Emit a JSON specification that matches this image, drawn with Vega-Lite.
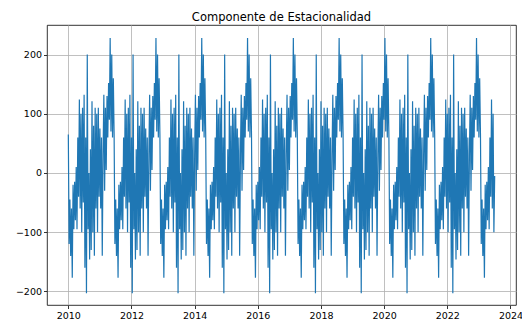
{
  "$schema": "https://vega.github.io/schema/vega-lite/v6.json",
  "width": 469,
  "height": 280,
  "autosize": {"type": "none"},
  "padding": {"left": 47, "top": 25, "right": 6, "bottom": 15},
  "background": "white",
  "title": {
    "text": "Componente de Estacionalidad",
    "font": "DejaVu Sans",
    "fontSize": 11.5,
    "fontWeight": "normal",
    "color": "#000000",
    "anchor": "middle",
    "frame": "group",
    "baseline": "alphabetic",
    "offset": 6,
    "dy": 13
  },
  "config": {
    "view": {"stroke": "#000000", "strokeWidth": 0.8},
    "axis": {
      "labelFont": "DejaVu Sans",
      "labelFontSize": 9.5,
      "labelColor": "#000000",
      "domain": false,
      "tickColor": "#000000",
      "tickSize": 3.5,
      "tickWidth": 0.8,
      "labelPadding": 2,
      "grid": true,
      "gridColor": "#b0b0b0",
      "gridWidth": 0.8,
      "title": null
    }
  },
  "data": {
    "values": [
      {"t":2010,"v":65},{"t":2010.025,"v":-120},{"t":2010.05,"v":-45},{"t":2010.075,"v":-140},{"t":2010.1,"v":-60},{"t":2010.125,"v":-177},{"t":2010.15,"v":-20},{"t":2010.175,"v":-95},{"t":2010.2,"v":-15},{"t":2010.225,"v":-80},{"t":2010.25,"v":10},{"t":2010.275,"v":-95},{"t":2010.3,"v":60},{"t":2010.325,"v":-40},{"t":2010.35,"v":124},{"t":2010.375,"v":-60},{"t":2010.4,"v":100},{"t":2010.425,"v":-100},{"t":2010.45,"v":110},{"t":2010.475,"v":-50},{"t":2010.5,"v":132},{"t":2010.525,"v":-160},{"t":2010.55,"v":60},{"t":2010.575,"v":-203},{"t":2010.6,"v":200},{"t":2010.625,"v":-95},{"t":2010.65,"v":0},{"t":2010.675,"v":-146},{"t":2010.7,"v":40},{"t":2010.725,"v":-130},{"t":2010.75,"v":121},{"t":2010.775,"v":-100},{"t":2010.8,"v":80},{"t":2010.825,"v":-140},{"t":2010.85,"v":110},{"t":2010.875,"v":-60},{"t":2010.9,"v":100},{"t":2010.925,"v":-100},{"t":2010.95,"v":110},{"t":2010.975,"v":-40},
      {"t":2011,"v":75},{"t":2011.025,"v":-60},{"t":2011.05,"v":60},{"t":2011.075,"v":-140},{"t":2011.1,"v":30},{"t":2011.125,"v":132},{"t":2011.15,"v":-30},{"t":2011.175,"v":110},{"t":2011.2,"v":5},{"t":2011.225,"v":130},{"t":2011.25,"v":60},{"t":2011.275,"v":152},{"t":2011.3,"v":90},{"t":2011.325,"v":228},{"t":2011.35,"v":70},{"t":2011.375,"v":200},{"t":2011.4,"v":60},{"t":2011.425,"v":160},{"t":2011.45,"v":65},{"t":2011.475,"v":-120},{"t":2011.5,"v":-45},{"t":2011.525,"v":-140},{"t":2011.55,"v":-60},{"t":2011.575,"v":-177},{"t":2011.6,"v":-20},{"t":2011.625,"v":-95},{"t":2011.65,"v":-15},{"t":2011.675,"v":-80},{"t":2011.7,"v":10},{"t":2011.725,"v":-95},{"t":2011.75,"v":60},{"t":2011.775,"v":-40},{"t":2011.8,"v":124},{"t":2011.825,"v":-60},{"t":2011.85,"v":100},{"t":2011.875,"v":-100},{"t":2011.9,"v":110},{"t":2011.925,"v":-50},{"t":2011.95,"v":132},{"t":2011.975,"v":-160},
      {"t":2012,"v":60},{"t":2012.025,"v":-203},{"t":2012.05,"v":200},{"t":2012.075,"v":-95},{"t":2012.1,"v":0},{"t":2012.125,"v":-146},{"t":2012.15,"v":40},{"t":2012.175,"v":-130},{"t":2012.2,"v":121},{"t":2012.225,"v":-100},{"t":2012.25,"v":80},{"t":2012.275,"v":-140},{"t":2012.3,"v":110},{"t":2012.325,"v":-60},{"t":2012.35,"v":100},{"t":2012.375,"v":-100},{"t":2012.4,"v":110},{"t":2012.425,"v":-40},{"t":2012.45,"v":75},{"t":2012.475,"v":-60},{"t":2012.5,"v":60},{"t":2012.525,"v":-140},{"t":2012.55,"v":30},{"t":2012.575,"v":132},{"t":2012.6,"v":-30},{"t":2012.625,"v":110},{"t":2012.65,"v":5},{"t":2012.675,"v":130},{"t":2012.7,"v":60},{"t":2012.725,"v":152},{"t":2012.75,"v":90},{"t":2012.775,"v":228},{"t":2012.8,"v":70},{"t":2012.825,"v":200},{"t":2012.85,"v":60},{"t":2012.875,"v":160},{"t":2012.9,"v":65},{"t":2012.925,"v":-120},{"t":2012.95,"v":-45},{"t":2012.975,"v":-140},
      {"t":2013,"v":-60},{"t":2013.025,"v":-177},{"t":2013.05,"v":-20},{"t":2013.075,"v":-95},{"t":2013.1,"v":-15},{"t":2013.125,"v":-80},{"t":2013.15,"v":10},{"t":2013.175,"v":-95},{"t":2013.2,"v":60},{"t":2013.225,"v":-40},{"t":2013.25,"v":124},{"t":2013.275,"v":-60},{"t":2013.3,"v":100},{"t":2013.325,"v":-100},{"t":2013.35,"v":110},{"t":2013.375,"v":-50},{"t":2013.4,"v":132},{"t":2013.425,"v":-160},{"t":2013.45,"v":60},{"t":2013.475,"v":-203},{"t":2013.5,"v":200},{"t":2013.525,"v":-95},{"t":2013.55,"v":0},{"t":2013.575,"v":-146},{"t":2013.6,"v":40},{"t":2013.625,"v":-130},{"t":2013.65,"v":121},{"t":2013.675,"v":-100},{"t":2013.7,"v":80},{"t":2013.725,"v":-140},{"t":2013.75,"v":110},{"t":2013.775,"v":-60},{"t":2013.8,"v":100},{"t":2013.825,"v":-100},{"t":2013.85,"v":110},{"t":2013.875,"v":-40},{"t":2013.9,"v":75},{"t":2013.925,"v":-60},{"t":2013.95,"v":60},{"t":2013.975,"v":-140},
      {"t":2014,"v":30},{"t":2014.025,"v":132},{"t":2014.05,"v":-30},{"t":2014.075,"v":110},{"t":2014.1,"v":5},{"t":2014.125,"v":130},{"t":2014.15,"v":60},{"t":2014.175,"v":152},{"t":2014.2,"v":90},{"t":2014.225,"v":228},{"t":2014.25,"v":70},{"t":2014.275,"v":200},{"t":2014.3,"v":60},{"t":2014.325,"v":160},{"t":2014.35,"v":65},{"t":2014.375,"v":-120},{"t":2014.4,"v":-45},{"t":2014.425,"v":-140},{"t":2014.45,"v":-60},{"t":2014.475,"v":-177},{"t":2014.5,"v":-20},{"t":2014.525,"v":-95},{"t":2014.55,"v":-15},{"t":2014.575,"v":-80},{"t":2014.6,"v":10},{"t":2014.625,"v":-95},{"t":2014.65,"v":60},{"t":2014.675,"v":-40},{"t":2014.7,"v":124},{"t":2014.725,"v":-60},{"t":2014.75,"v":100},{"t":2014.775,"v":-100},{"t":2014.8,"v":110},{"t":2014.825,"v":-50},{"t":2014.85,"v":132},{"t":2014.875,"v":-160},{"t":2014.9,"v":60},{"t":2014.925,"v":-203},{"t":2014.95,"v":200},{"t":2014.975,"v":-95},
      {"t":2015,"v":0},{"t":2015.025,"v":-146},{"t":2015.05,"v":40},{"t":2015.075,"v":-130},{"t":2015.1,"v":121},{"t":2015.125,"v":-100},{"t":2015.15,"v":80},{"t":2015.175,"v":-140},{"t":2015.2,"v":110},{"t":2015.225,"v":-60},{"t":2015.25,"v":100},{"t":2015.275,"v":-100},{"t":2015.3,"v":110},{"t":2015.325,"v":-40},{"t":2015.35,"v":75},{"t":2015.375,"v":-60},{"t":2015.4,"v":60},{"t":2015.425,"v":-140},{"t":2015.45,"v":30},{"t":2015.475,"v":132},{"t":2015.5,"v":-30},{"t":2015.525,"v":110},{"t":2015.55,"v":5},{"t":2015.575,"v":130},{"t":2015.6,"v":60},{"t":2015.625,"v":152},{"t":2015.65,"v":90},{"t":2015.675,"v":228},{"t":2015.7,"v":70},{"t":2015.725,"v":200},{"t":2015.75,"v":60},{"t":2015.775,"v":160},{"t":2015.8,"v":65},{"t":2015.825,"v":-120},{"t":2015.85,"v":-45},{"t":2015.875,"v":-140},{"t":2015.9,"v":-60},{"t":2015.925,"v":-177},{"t":2015.95,"v":-20},{"t":2015.975,"v":-95},
      {"t":2016,"v":-15},{"t":2016.025,"v":-80},{"t":2016.05,"v":10},{"t":2016.075,"v":-95},{"t":2016.1,"v":60},{"t":2016.125,"v":-40},{"t":2016.15,"v":124},{"t":2016.175,"v":-60},{"t":2016.2,"v":100},{"t":2016.225,"v":-100},{"t":2016.25,"v":110},{"t":2016.275,"v":-50},{"t":2016.3,"v":132},{"t":2016.325,"v":-160},{"t":2016.35,"v":60},{"t":2016.375,"v":-203},{"t":2016.4,"v":200},{"t":2016.425,"v":-95},{"t":2016.45,"v":0},{"t":2016.475,"v":-146},{"t":2016.5,"v":40},{"t":2016.525,"v":-130},{"t":2016.55,"v":121},{"t":2016.575,"v":-100},{"t":2016.6,"v":80},{"t":2016.625,"v":-140},{"t":2016.65,"v":110},{"t":2016.675,"v":-60},{"t":2016.7,"v":100},{"t":2016.725,"v":-100},{"t":2016.75,"v":110},{"t":2016.775,"v":-40},{"t":2016.8,"v":75},{"t":2016.825,"v":-60},{"t":2016.85,"v":60},{"t":2016.875,"v":-140},{"t":2016.9,"v":30},{"t":2016.925,"v":132},{"t":2016.95,"v":-30},{"t":2016.975,"v":110},
      {"t":2017,"v":5},{"t":2017.025,"v":130},{"t":2017.05,"v":60},{"t":2017.075,"v":152},{"t":2017.1,"v":90},{"t":2017.125,"v":228},{"t":2017.15,"v":70},{"t":2017.175,"v":200},{"t":2017.2,"v":60},{"t":2017.225,"v":160},{"t":2017.25,"v":65},{"t":2017.275,"v":-120},{"t":2017.3,"v":-45},{"t":2017.325,"v":-140},{"t":2017.35,"v":-60},{"t":2017.375,"v":-177},{"t":2017.4,"v":-20},{"t":2017.425,"v":-95},{"t":2017.45,"v":-15},{"t":2017.475,"v":-80},{"t":2017.5,"v":10},{"t":2017.525,"v":-95},{"t":2017.55,"v":60},{"t":2017.575,"v":-40},{"t":2017.6,"v":124},{"t":2017.625,"v":-60},{"t":2017.65,"v":100},{"t":2017.675,"v":-100},{"t":2017.7,"v":110},{"t":2017.725,"v":-50},{"t":2017.75,"v":132},{"t":2017.775,"v":-160},{"t":2017.8,"v":60},{"t":2017.825,"v":-203},{"t":2017.85,"v":200},{"t":2017.875,"v":-95},{"t":2017.9,"v":0},{"t":2017.925,"v":-146},{"t":2017.95,"v":40},{"t":2017.975,"v":-130},
      {"t":2018,"v":121},{"t":2018.025,"v":-100},{"t":2018.05,"v":80},{"t":2018.075,"v":-140},{"t":2018.1,"v":110},{"t":2018.125,"v":-60},{"t":2018.15,"v":100},{"t":2018.175,"v":-100},{"t":2018.2,"v":110},{"t":2018.225,"v":-40},{"t":2018.25,"v":75},{"t":2018.275,"v":-60},{"t":2018.3,"v":60},{"t":2018.325,"v":-140},{"t":2018.35,"v":30},{"t":2018.375,"v":132},{"t":2018.4,"v":-30},{"t":2018.425,"v":110},{"t":2018.45,"v":5},{"t":2018.475,"v":130},{"t":2018.5,"v":60},{"t":2018.525,"v":152},{"t":2018.55,"v":90},{"t":2018.575,"v":228},{"t":2018.6,"v":70},{"t":2018.625,"v":200},{"t":2018.65,"v":60},{"t":2018.675,"v":160},{"t":2018.7,"v":65},{"t":2018.725,"v":-120},{"t":2018.75,"v":-45},{"t":2018.775,"v":-140},{"t":2018.8,"v":-60},{"t":2018.825,"v":-177},{"t":2018.85,"v":-20},{"t":2018.875,"v":-95},{"t":2018.9,"v":-15},{"t":2018.925,"v":-80},{"t":2018.95,"v":10},{"t":2018.975,"v":-95},
      {"t":2019,"v":60},{"t":2019.025,"v":-40},{"t":2019.05,"v":124},{"t":2019.075,"v":-60},{"t":2019.1,"v":100},{"t":2019.125,"v":-100},{"t":2019.15,"v":110},{"t":2019.175,"v":-50},{"t":2019.2,"v":132},{"t":2019.225,"v":-160},{"t":2019.25,"v":60},{"t":2019.275,"v":-203},{"t":2019.3,"v":200},{"t":2019.325,"v":-95},{"t":2019.35,"v":0},{"t":2019.375,"v":-146},{"t":2019.4,"v":40},{"t":2019.425,"v":-130},{"t":2019.45,"v":121},{"t":2019.475,"v":-100},{"t":2019.5,"v":80},{"t":2019.525,"v":-140},{"t":2019.55,"v":110},{"t":2019.575,"v":-60},{"t":2019.6,"v":100},{"t":2019.625,"v":-100},{"t":2019.65,"v":110},{"t":2019.675,"v":-40},{"t":2019.7,"v":75},{"t":2019.725,"v":-60},{"t":2019.75,"v":60},{"t":2019.775,"v":-140},{"t":2019.8,"v":30},{"t":2019.825,"v":132},{"t":2019.85,"v":-30},{"t":2019.875,"v":110},{"t":2019.9,"v":5},{"t":2019.925,"v":130},{"t":2019.95,"v":60},{"t":2019.975,"v":152},
      {"t":2020,"v":90},{"t":2020.025,"v":228},{"t":2020.05,"v":70},{"t":2020.075,"v":200},{"t":2020.1,"v":60},{"t":2020.125,"v":160},{"t":2020.15,"v":65},{"t":2020.175,"v":-120},{"t":2020.2,"v":-45},{"t":2020.225,"v":-140},{"t":2020.25,"v":-60},{"t":2020.275,"v":-177},{"t":2020.3,"v":-20},{"t":2020.325,"v":-95},{"t":2020.35,"v":-15},{"t":2020.375,"v":-80},{"t":2020.4,"v":10},{"t":2020.425,"v":-95},{"t":2020.45,"v":60},{"t":2020.475,"v":-40},{"t":2020.5,"v":124},{"t":2020.525,"v":-60},{"t":2020.55,"v":100},{"t":2020.575,"v":-100},{"t":2020.6,"v":110},{"t":2020.625,"v":-50},{"t":2020.65,"v":132},{"t":2020.675,"v":-160},{"t":2020.7,"v":60},{"t":2020.725,"v":-203},{"t":2020.75,"v":200},{"t":2020.775,"v":-95},{"t":2020.8,"v":0},{"t":2020.825,"v":-146},{"t":2020.85,"v":40},{"t":2020.875,"v":-130},{"t":2020.9,"v":121},{"t":2020.925,"v":-100},{"t":2020.95,"v":80},{"t":2020.975,"v":-140},
      {"t":2021,"v":110},{"t":2021.025,"v":-60},{"t":2021.05,"v":100},{"t":2021.075,"v":-100},{"t":2021.1,"v":110},{"t":2021.125,"v":-40},{"t":2021.15,"v":75},{"t":2021.175,"v":-60},{"t":2021.2,"v":60},{"t":2021.225,"v":-140},{"t":2021.25,"v":30},{"t":2021.275,"v":132},{"t":2021.3,"v":-30},{"t":2021.325,"v":110},{"t":2021.35,"v":5},{"t":2021.375,"v":130},{"t":2021.4,"v":60},{"t":2021.425,"v":152},{"t":2021.45,"v":90},{"t":2021.475,"v":228},{"t":2021.5,"v":70},{"t":2021.525,"v":200},{"t":2021.55,"v":60},{"t":2021.575,"v":160},{"t":2021.6,"v":65},{"t":2021.625,"v":-120},{"t":2021.65,"v":-45},{"t":2021.675,"v":-140},{"t":2021.7,"v":-60},{"t":2021.725,"v":-177},{"t":2021.75,"v":-20},{"t":2021.775,"v":-95},{"t":2021.8,"v":-15},{"t":2021.825,"v":-80},{"t":2021.85,"v":10},{"t":2021.875,"v":-95},{"t":2021.9,"v":60},{"t":2021.925,"v":-40},{"t":2021.95,"v":124},{"t":2021.975,"v":-60},
      {"t":2022,"v":100},{"t":2022.025,"v":-100},{"t":2022.05,"v":110},{"t":2022.075,"v":-50},{"t":2022.1,"v":132},{"t":2022.125,"v":-160},{"t":2022.15,"v":60},{"t":2022.175,"v":-203},{"t":2022.2,"v":200},{"t":2022.225,"v":-95},{"t":2022.25,"v":0},{"t":2022.275,"v":-146},{"t":2022.3,"v":40},{"t":2022.325,"v":-130},{"t":2022.35,"v":121},{"t":2022.375,"v":-100},{"t":2022.4,"v":80},{"t":2022.425,"v":-140},{"t":2022.45,"v":110},{"t":2022.475,"v":-60},{"t":2022.5,"v":100},{"t":2022.525,"v":-100},{"t":2022.55,"v":110},{"t":2022.575,"v":-40},{"t":2022.6,"v":75},{"t":2022.625,"v":-60},{"t":2022.65,"v":60},{"t":2022.675,"v":-140},{"t":2022.7,"v":30},{"t":2022.725,"v":132},{"t":2022.75,"v":-30},{"t":2022.775,"v":110},{"t":2022.8,"v":5},{"t":2022.825,"v":130},{"t":2022.85,"v":60},{"t":2022.875,"v":152},{"t":2022.9,"v":90},{"t":2022.925,"v":228},{"t":2022.95,"v":70},{"t":2022.975,"v":200},
      {"t":2023,"v":60},{"t":2023.025,"v":160},{"t":2023.05,"v":65},{"t":2023.075,"v":-120},{"t":2023.1,"v":-45},{"t":2023.125,"v":-140},{"t":2023.15,"v":-60},{"t":2023.175,"v":-177},{"t":2023.2,"v":-20},{"t":2023.225,"v":-95},{"t":2023.25,"v":-15},{"t":2023.275,"v":-80},{"t":2023.3,"v":10},{"t":2023.325,"v":-95},{"t":2023.35,"v":60},{"t":2023.375,"v":-40},{"t":2023.4,"v":124},{"t":2023.425,"v":-60},{"t":2023.45,"v":100},{"t":2023.475,"v":-100},{"t":2023.5,"v":-5}
    ]
  },
  "mark": {"type": "line", "color": "#1f77b4", "strokeWidth": 1.2, "clip": true},
  "encoding": {
    "x": {
      "field": "t",
      "type": "quantitative",
      "scale": {"domain": [2009.325, 2024.175], "nice": false, "zero": false},
      "axis": {"values": [2010, 2012, 2014, 2016, 2018, 2020, 2022, 2024], "format": "d"}
    },
    "y": {
      "field": "v",
      "type": "quantitative",
      "scale": {"domain": [-223, 250], "nice": false, "zero": false},
      "axis": {"values": [-200, -100, 0, 100, 200], "format": "d"}
    }
  }
}
